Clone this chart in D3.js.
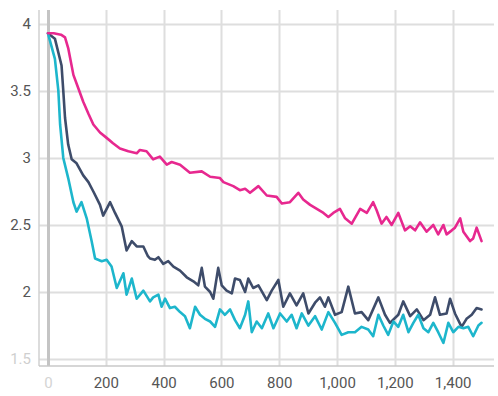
<!DOCTYPE html>
<html><head><meta charset="utf-8">
<script src="https://cdn.jsdelivr.net/npm/d3@7"></script>
<style>
html,body{margin:0;padding:0;background:#fff;}
svg{display:block;font-family:Roboto,"Noto Sans",sans-serif;}
</style></head>
<body><svg id="c" width="498" height="396"></svg>
<script>
const xTicks = [0,200,400,600,800,1000,1200,1400];
const yTicks = [1.5,2,2.5,3,3.5,4];

const pinkSteps = [0,20,45,59,70,88,105,122,140,157,180,203,225,249,278,307,318,341,364,387,411,428,457,491,532,561,595,607,641,664,682,699,728,757,791,809,837,866,883,907,930,953,970,987,1010,1028,1051,1080,1103,1125,1137,1154,1171,1189,1212,1235,1253,1270,1287,1310,1333,1350,1368,1379,1397,1408,1426,1437,1460,1471,1483,1500];
const pinkValues = [3.93,3.93,3.92,3.90,3.82,3.62,3.52,3.42,3.33,3.25,3.19,3.15,3.11,3.07,3.05,3.035,3.06,3.05,2.99,3.01,2.95,2.97,2.95,2.89,2.90,2.86,2.85,2.82,2.79,2.76,2.77,2.74,2.79,2.72,2.71,2.66,2.67,2.74,2.69,2.65,2.62,2.59,2.56,2.59,2.62,2.55,2.51,2.62,2.59,2.67,2.61,2.51,2.56,2.50,2.59,2.46,2.49,2.46,2.52,2.45,2.50,2.43,2.50,2.43,2.46,2.48,2.55,2.45,2.38,2.40,2.48,2.38];

const navySteps = [0,24,47,53,59,70,82,99,122,140,157,180,191,215,232,255,272,290,307,330,345,353,370,382,399,416,434,457,480,503,520,532,543,561,572,589,601,618,636,647,664,682,693,710,728,757,774,797,814,837,860,883,901,924,941,958,970,993,1016,1039,1062,1085,1108,1143,1166,1183,1212,1229,1253,1276,1299,1322,1339,1356,1379,1391,1408,1431,1448,1466,1483,1500];
const navyValues = [3.93,3.89,3.69,3.50,3.30,3.10,2.99,2.96,2.87,2.82,2.75,2.65,2.57,2.67,2.59,2.49,2.31,2.38,2.34,2.34,2.27,2.25,2.24,2.26,2.21,2.23,2.19,2.16,2.11,2.08,2.05,2.18,2.04,2.00,1.95,2.18,2.05,2.01,1.99,2.10,2.09,2.00,2.10,2.03,2.05,1.94,2.01,2.09,1.89,1.99,1.90,1.99,1.84,1.92,1.96,1.89,1.96,1.83,1.85,2.04,1.84,1.85,1.79,1.96,1.83,1.77,1.83,1.93,1.82,1.87,1.79,1.83,1.96,1.83,1.84,1.95,1.84,1.74,1.80,1.83,1.88,1.87];

const cyanSteps = [0,24,36,42,53,70,88,99,116,134,151,163,186,203,220,238,261,272,290,307,330,353,364,382,393,405,422,439,457,474,491,509,526,543,561,578,595,612,630,647,664,682,693,705,722,740,762,780,803,826,843,860,878,901,924,947,970,993,1016,1039,1062,1085,1108,1125,1143,1160,1177,1195,1212,1229,1247,1264,1281,1299,1316,1333,1350,1368,1385,1402,1420,1437,1454,1471,1489,1500];
const cyanValues = [3.93,3.74,3.50,3.25,3.00,2.85,2.67,2.60,2.67,2.55,2.38,2.25,2.23,2.24,2.19,2.03,2.14,1.98,2.10,1.95,2.01,1.93,1.96,1.98,1.89,1.95,1.88,1.89,1.85,1.82,1.73,1.89,1.83,1.80,1.78,1.74,1.87,1.83,1.87,1.79,1.73,1.83,1.93,1.70,1.78,1.73,1.84,1.73,1.84,1.78,1.83,1.73,1.84,1.75,1.82,1.72,1.85,1.77,1.68,1.70,1.70,1.74,1.72,1.67,1.83,1.75,1.68,1.78,1.74,1.83,1.70,1.77,1.83,1.73,1.70,1.77,1.70,1.62,1.77,1.70,1.74,1.73,1.74,1.67,1.75,1.77];

const seriesList = [
  {steps: navySteps, values: navyValues, color: "#3e4c6a"},
  {steps: cyanSteps, values: cyanValues, color: "#1db6cc"},
  {steps: pinkSteps, values: pinkValues, color: "#e7288f"}
];

const svg = d3.select("#c");
const pL = 39, pR = 494, pT = 10, pB = 366;
const x = d3.scaleLinear().domain([-31, 1543]).range([pL, pR]);
const y = d3.scaleLinear().domain([1.448, 4.104]).range([pB, pT]);

// grid
const g = svg.append("g");
g.selectAll("line.h").data(yTicks).join("line")
  .attr("x1", pL).attr("x2", pR)
  .attr("y1", d => Math.round(y(d)) + 0.5).attr("y2", d => Math.round(y(d)) + 0.5)
  .attr("stroke", "#dedede").attr("stroke-width", 2);
g.selectAll("line.v").data(xTicks).join("line")
  .attr("y1", pT).attr("y2", pB)
  .attr("x1", d => Math.round(x(d)) + 0.5).attr("x2", d => Math.round(x(d)) + 0.5)
  .attr("stroke", d => d === 0 ? "#c4c4c4" : "#dedede").attr("stroke-width", d => d === 0 ? 3 : 2);
// axis lines
g.append("line").attr("x1", pL).attr("x2", pL).attr("y1", pT).attr("y2", pB)
  .attr("stroke", "#d0d0d0").attr("stroke-width", 1.5);
g.append("line").attr("x1", pL).attr("x2", pR).attr("y1", pB).attr("y2", pB)
  .attr("stroke", "#c8c8c8").attr("stroke-width", 1.5);

// axes labels via d3 axes
const xAxis = d3.axisBottom(x).tickValues(xTicks).tickFormat(d3.format(",")).tickSize(0).tickPadding(0);
const xa = svg.append("g").attr("transform", `translate(0,${pB + 17})`).call(xAxis);
xa.select(".domain").remove();
xa.selectAll("text").attr("font-size", 15).attr("fill", d => d === 0 ? "#d4d4d4" : "#555")
  .attr("font-family", "Roboto, sans-serif").attr("dy", "0.35em");

const yAxis = d3.axisLeft(y).tickValues(yTicks).tickFormat(d3.format("")).tickSize(0).tickPadding(0);
const ya = svg.append("g").attr("transform", `translate(31,0)`).call(yAxis);
ya.select(".domain").remove();
ya.selectAll("text").attr("font-size", 15).attr("fill", d => d === 1.5 ? "#cfcfcf" : "#555")
  .attr("font-family", "Roboto, sans-serif");

// lines
const line = d3.line().x(d => x(d[0])).y(d => y(d[1]));
seriesList.forEach(s => {
  const pts = s.steps.map((st, i) => [st, s.values[i]]);
  svg.append("path").datum(pts).attr("d", line)
    .attr("fill", "none").attr("stroke", s.color).attr("stroke-width", 2.6)
    .attr("stroke-linejoin", "round").attr("stroke-linecap", "round");
});
</script>
</body></html>
